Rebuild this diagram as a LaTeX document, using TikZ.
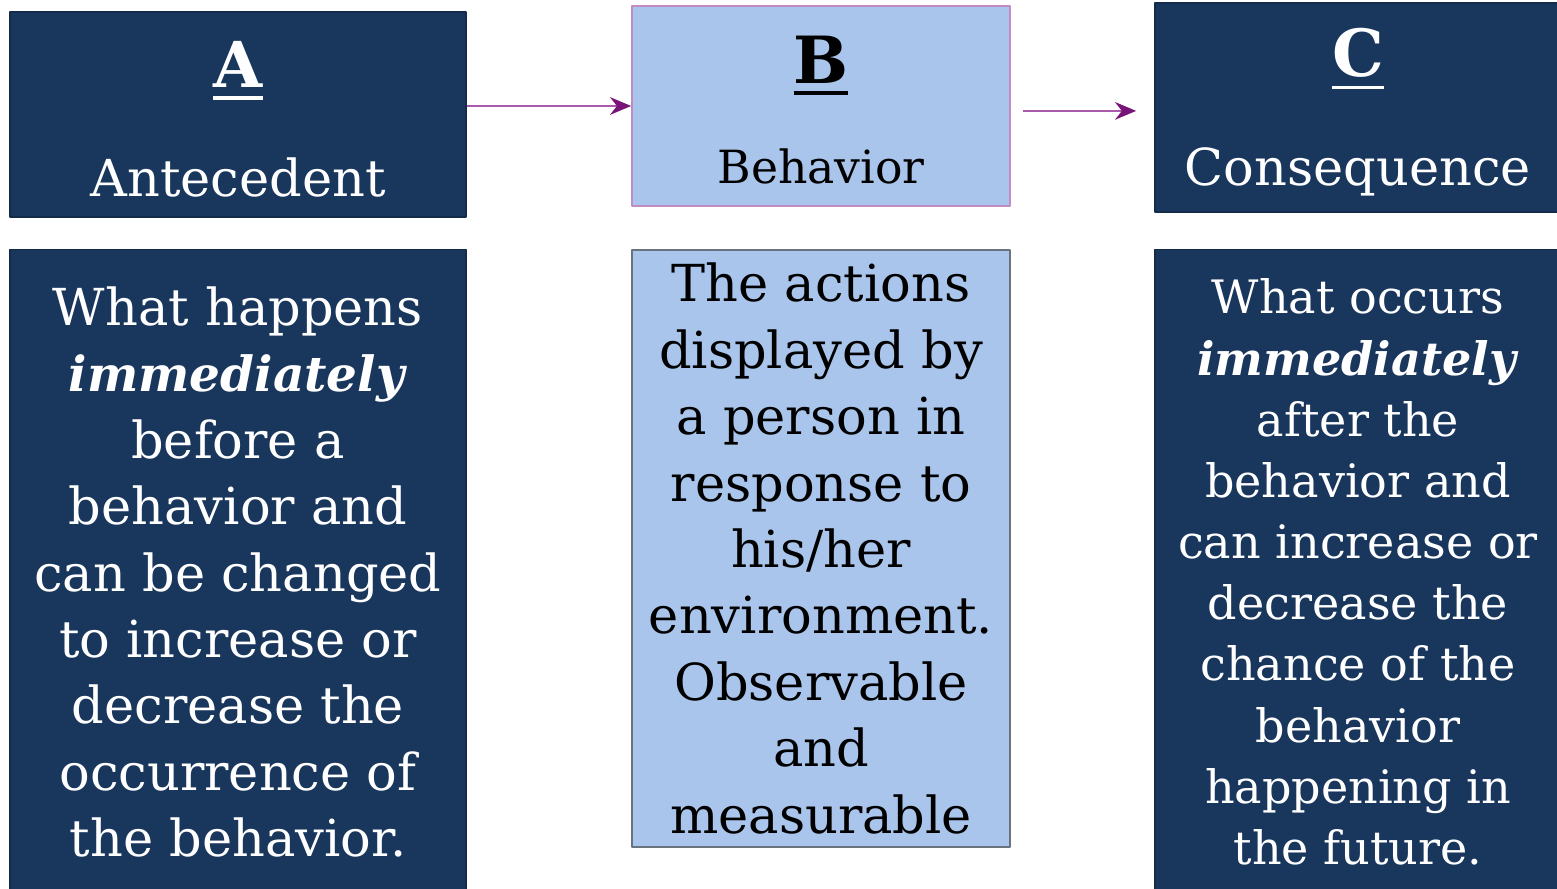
\documentclass[tikz,border=0pt]{standalone}
\usepackage{fontspec}
\setmainfont{DejaVu Serif}
\usetikzlibrary{arrows.meta, calc}
\definecolor{navy}{RGB}{25,54,93}
\definecolor{paleblue}{RGB}{169,197,235}
\definecolor{plum}{RGB}{120,20,120}
\definecolor{lineplum}{RGB}{170,90,170}
\definecolor{edgegray}{RGB}{105,115,125}
\newcommand{\ulletter}[1]{\setbox0\hbox{#1}\vtop{\copy0\kern2.2pt\hrule height 1.1pt width \wd0}}
\tikzset{>={Stealth[length=6pt,width=5pt]},
  darkbox/.style={fill=navy, draw=navy!80!black, text=white, align=center, inner sep=0pt},
  lightbox/.style={fill=paleblue, align=center, inner sep=0pt},
  headtext/.style={font=\fontsize{14.5}{18.9}\selectfont},
  bodytext/.style={font=\fontsize{14.5}{18.9}\selectfont},
  flow/.style={draw=lineplum, line width=0.7pt, -{Stealth[length=6pt,width=5pt,color=plum]}}}

\begin{document}
\begin{tikzpicture}[x=0.01cm, y=-0.01cm, line join = round]
    \useasboundingbox (0,0) rectangle (1557,889);
    % top row
    \node[darkbox, headtext, minimum width=4.56cm, minimum height=2.05cm] (ahead) at (238,114.5) {\rule{0pt}{16pt}{\fontsize{18}{20}\bfseries\ulletter{A}}\\[12pt]Antecedent};
    \node[lightbox, headtext, draw=lineplum!70, minimum width=3.78cm, minimum height=2.00cm] (bhead) at (821,106) {\rule{0pt}{15.8pt}{\fontsize{18.5}{20}\bfseries\ulletter{B}}\\[9.7pt]{\fontsize{13}{16}\selectfont Behavior}};
    \node[darkbox, headtext, minimum width=4.06cm, minimum height=2.09cm] (chead) at (1358,107.5) {\rule{0pt}{16.5pt}{\fontsize{18.5}{20}\bfseries\ulletter{C}}\\[12pt]Consequence};
    % bottom row
    \node[darkbox, bodytext, minimum width=4.56cm, minimum height=6.45cm] (abody) at (238,572) {What happens\\{\fontsize{13.8}{18.9}\selectfont\textbf{\textit{immediately}}}\\before a\\behavior and\\can be changed\\to increase or\\decrease the\\occurrence of\\the behavior.};
    \node[lightbox, bodytext, draw=edgegray, minimum width=3.78cm, minimum height=5.97cm] (bbody) at (821,548.5) {The actions\\displayed by\\a person in\\response to\\his/her\\environment.\\Observable\\and\\measurable};
    \node[darkbox, font=\fontsize{13.1}{17.4}\selectfont, minimum width=4.06cm, minimum height=6.45cm] (cbody) at (1358,572) {What occurs\\\textbf{\textit{immediately}}\\after the\\behavior and\\can increase or\\decrease the\\chance of the\\behavior\\happening in\\the future.};
    % arrows
    \draw[flow] (ahead.east |- bhead.west) -- (bhead.west);
    \draw[flow, shorten <=0.12cm, shorten >=0.18cm] ([yshift=-1.4pt]bhead.east) -- ([yshift=-1.4pt]bhead.east -| chead.west);
\end{tikzpicture}
\end{document}
